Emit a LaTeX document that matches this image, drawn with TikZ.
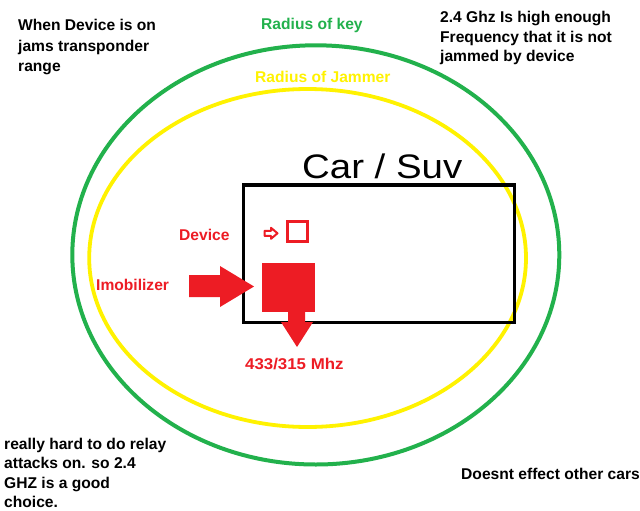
\documentclass[tikz,border=0pt]{standalone}
\usepackage{fontspec}
\setmainfont{Liberation Sans}
\definecolor{pgreen}{RGB}{34,177,76}
\definecolor{pyellow}{RGB}{255,242,0}
\definecolor{pred}{RGB}{237,28,36}
\begin{document}
\begin{tikzpicture}[x=1pt,y=-1pt,
  lbl/.style={font=\fontsize{15.6}{20}\selectfont\bfseries, inner sep=0, anchor=base west},
  redfill/.style={fill=pred, draw=none}]
\useasboundingbox (0,0) rectangle (640,511);
\fill[white] (0,0) rectangle (640,511);
% ellipses
\draw[pgreen, line width=4] (315.8,254.9) ellipse [x radius=243.5, y radius=209.6];
\draw[pyellow, line width=3.8] (307.6,258) ellipse [x radius=218.4, y radius=169];
% car rectangle
\draw[black, line width=3.3] (243.3,185) rectangle (514.3,322.3);
% device square and small arrow
\draw[pred, line width=3.3] (287.7,221.7) rectangle (307.3,241.3);
\draw[pred, line width=2, fill=white, line join=round]
  (264.5,230.8) -- (271,230.8) -- (271,227.8) -- (277.5,233.3) -- (271,238.8) -- (271,235.8) -- (264.5,235.8) -- cycle;
% immobilizer block
\fill[redfill] (262,263) rectangle (315,312);
\fill[redfill] (189,275) -- (220,275) -- (220,266) -- (254,286.5) -- (220,307) -- (220,297) -- (189,297) -- cycle;
\fill[redfill] (288,300) -- (305,300) -- (305,322) -- (313,322) -- (297,347) -- (281,322) -- (288,322) -- cycle;
% texts
\node[lbl, font=\fontsize{15.6}{20.5}\selectfont\bfseries] (tl) at (18,31)
  {\begin{tabular}[t]{@{}l@{}}When Device is on\\jams transponder\\range\end{tabular}};
\node[lbl, text=pgreen] (key) at (261,30) {Radius of key};
\node[lbl, text=pyellow] (jam) at (255,83) {Radius of Jammer};
\node[lbl, font=\fontsize{15.6}{19.5}\selectfont\bfseries] (tr) at (440,23)
  {\begin{tabular}[t]{@{}l@{}}2.4 Ghz Is high enough\\Frequency that it is not\\jammed by device\end{tabular}};
\node[inner sep=0, anchor=base west, font=\fontsize{34}{40}\selectfont] (car) at (302,178) {\scalebox{1.13}[1]{Car / Suv}};
\node[lbl, text=pred] (device) at (179,240) {Device};
\node[lbl, text=pred] (imob) at (96,290) {Imobilizer};
\node[lbl, text=pred] (mhz) at (245,369) {\scalebox{1.08}[1]{433/315 Mhz}};
\node[lbl, font=\fontsize{15.6}{19.5}\selectfont\bfseries] (bl) at (4,449)
  {\begin{tabular}[t]{@{}l@{}}really hard to do relay\\attacks on. so 2.4\\GHZ is a good\\choice.\end{tabular}};
\node[lbl] (br) at (461,479) {Doesnt effect other cars};
\end{tikzpicture}
\end{document}
